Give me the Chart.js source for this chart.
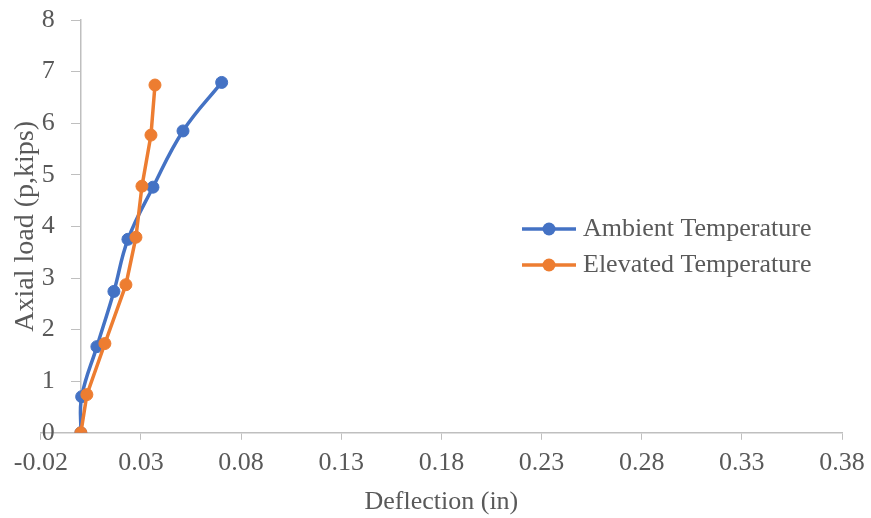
<!DOCTYPE html>
<html>
<head>
<meta charset="utf-8">
<script src="https://cdn.jsdelivr.net/npm/chart.js@4.4.1/dist/chart.umd.min.js"></script>
<style>
  html, body { margin: 0; padding: 0; background: #ffffff; }
  #wrap { width: 871px; height: 518px; }
</style>
</head>
<body>
<div id="wrap"><canvas id="loadChart"></canvas></div>
<script>
const seriesNames = ["Ambient Temperature", "Elevated Temperature"];

// deflection (in) vs axial load (kips)
const ambientDeflection = [0, 0.0004, 0.008, 0.0165, 0.0235, 0.036, 0.051, 0.0703];
const ambientLoad = [0, 0.70, 1.67, 2.74, 3.75, 4.76, 5.85, 6.79];
const elevatedDeflection = [0, 0.003, 0.012, 0.0225, 0.0275, 0.0305, 0.035, 0.037];
const elevatedLoad = [0, 0.74, 1.73, 2.87, 3.79, 4.78, 5.77, 6.74];

const xTicks = [-0.02, 0.03, 0.08, 0.13, 0.18, 0.23, 0.28, 0.33, 0.38];
const yTicks = [0, 1, 2, 3, 4, 5, 6, 7, 8];

const blue = "#4472C4";
const orange = "#ED7D31";
const textGrey = "#595959";
const axisGrey = "#BFBFBF";

Chart.defaults.font.family = "'Liberation Serif', 'Times New Roman', serif";
Chart.defaults.font.size = 26;
Chart.defaults.color = textGrey;

function toPoints(xs, ys) {
    return xs.map((x, i) => ({ x: x, y: ys[i] }));
}

// small line-with-dot marker used in the legend
function legendMarker(color) {
    const c = document.createElement("canvas");
    c.width = 54;
    c.height = 16;
    const ctx = c.getContext("2d");
    ctx.strokeStyle = color;
    ctx.lineWidth = 3.5;
    ctx.beginPath();
    ctx.moveTo(0, 8);
    ctx.lineTo(54, 8);
    ctx.stroke();
    ctx.fillStyle = color;
    ctx.beginPath();
    ctx.arc(27, 8, 6.5, 0, Math.PI * 2);
    ctx.fill();
    return c;
}

// put the legend to the right of the curves, inside the plot
const legendSpot = {
    id: "legendSpot",
    afterLayout(chart) {
        const lg = chart.legend;
        if (!lg) return;
        lg.left = 518;
        lg.right = lg.left + 320;
        lg.top = 206;
        lg.bottom = lg.top + 300;
    }
};

const canvas = document.getElementById("loadChart");

new Chart(canvas, {
    type: "scatter",
    data: {
        datasets: [{
            label: seriesNames[0],
            data: toPoints(ambientDeflection, ambientLoad),
            showLine: true,
            tension: 0.4,
            borderColor: blue,
            backgroundColor: blue,
            borderWidth: 3.5,
            pointRadius: 6,
            pointBorderWidth: 1,
            pointHoverRadius: 6,
            order: 1
        }, {
            label: seriesNames[1],
            data: toPoints(elevatedDeflection, elevatedLoad),
            showLine: true,
            tension: 0,
            borderColor: orange,
            backgroundColor: orange,
            borderWidth: 3.5,
            pointRadius: 6,
            pointBorderWidth: 1,
            pointHoverRadius: 6,
            order: 0
        }]
    },
    options: {
        responsive: true,
        maintainAspectRatio: false,
        animation: false,
        layout: {
            padding: { top: 20, right: 29, bottom: 0, left: 0 }
        },
        scales: {
            x: {
                type: "linear",
                position: "bottom",
                min: xTicks[0],
                max: xTicks[xTicks.length - 1],
                afterBuildTicks: (scale) => {
                    scale.ticks = xTicks.map(v => ({ value: v }));
                },
                afterFit: (scale) => {
                    // last label may hang past the plot edge
                    scale.paddingRight = 0;
                },
                ticks: {
                    padding: 8,
                    maxRotation: 0,
                    autoSkip: false,
                    callback: (v) => Number(v).toFixed(2)
                },
                grid: {
                    drawOnChartArea: false,
                    drawTicks: true,
                    tickLength: 7,
                    color: axisGrey
                },
                border: { display: true, color: axisGrey, width: 1.5 },
                title: {
                    display: true,
                    text: "Deflection (in)",
                    font: { size: 26, lineHeight: 1 },
                    padding: { top: 2, bottom: 3 }
                }
            },
            y: {
                type: "linear",
                position: { x: 0 },
                min: yTicks[0],
                max: yTicks[yTicks.length - 1],
                afterBuildTicks: (scale) => {
                    scale.ticks = yTicks.map(v => ({ value: v }));
                },
                ticks: {
                    padding: 0,
                    // trailing gap keeps the labels clear of the tick marks
                    callback: (v) => v + "    "
                },
                grid: {
                    drawOnChartArea: false,
                    drawTicks: true,
                    tickLength: 9,
                    color: axisGrey
                },
                border: { display: true, color: axisGrey, width: 1.5 }
            },
            yTitle: {
                type: "linear",
                position: "left",
                min: yTicks[0],
                max: yTicks[yTicks.length - 1],
                ticks: { display: false },
                grid: { display: false, drawTicks: false },
                border: { display: false },
                title: {
                    display: true,
                    text: "Axial load (p,kips)",
                    font: { size: 28, lineHeight: 1.1 },
                    padding: { top: 10, bottom: 0 }
                }
            }
        },
        plugins: {
            tooltip: { enabled: false },
            legend: {
                position: "chartArea",
                align: "start",
                labels: {
                    usePointStyle: true,
                    pointStyleWidth: 42,
                    padding: 10,
                    color: textGrey,
                    font: { size: 26 },
                    sort: (a, b) => a.datasetIndex - b.datasetIndex,
                    generateLabels: (chart) => {
                        const items = Chart.defaults.plugins.legend.labels.generateLabels(chart);
                        items.forEach(item => {
                            const color = item.datasetIndex === 0 ? blue : orange;
                            item.pointStyle = legendMarker(color);
                        });
                        return items;
                    }
                }
            }
        }
    },
    plugins: [legendSpot]
});
</script>
</body>
</html>
